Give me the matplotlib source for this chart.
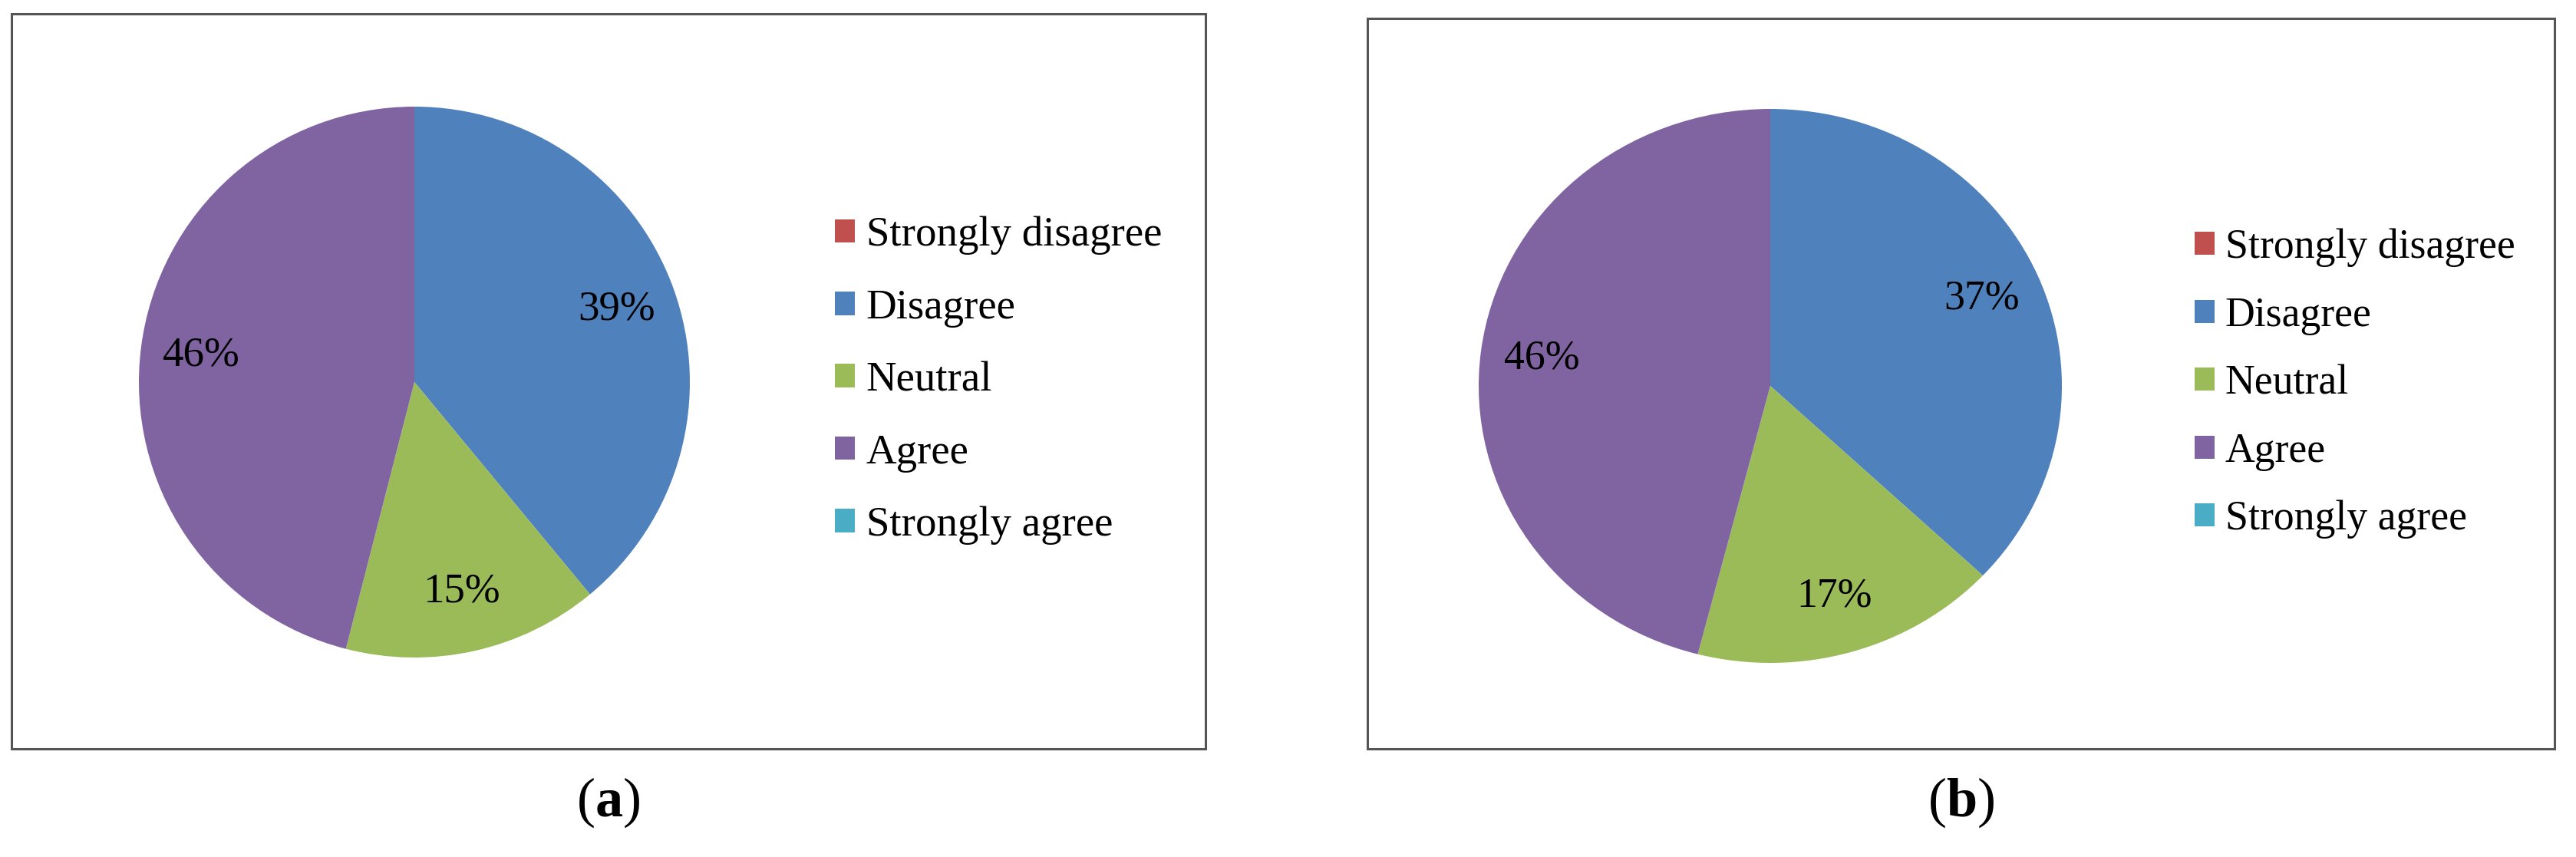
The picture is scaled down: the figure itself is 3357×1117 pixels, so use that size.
import matplotlib
matplotlib.use("Agg")
import matplotlib.pyplot as plt
from matplotlib.patches import Rectangle

plt.rcParams['font.family'] = ['Liberation Serif', 'DejaVu Serif']
plt.rcParams['mathtext.fontset'] = 'custom'
plt.rcParams['mathtext.rm'] = 'Liberation Serif'
plt.rcParams['mathtext.bf'] = 'Liberation Serif:bold'

categories = ['Strongly disagree', 'Disagree', 'Neutral', 'Agree', 'Strongly agree']
colors = ['#C0504D', '#4F81BD', '#9BBB59', '#8064A2', '#4BACC6']
values_a = [0, 39, 15, 46, 0]
values_b = [0, 37, 17, 46, 0]
panel_labels = ['a', 'b']

W, H = 3357, 1117
fig = plt.figure(figsize=(W / 100, H / 100), dpi=100)


def fr(x0, y0, x1, y1):
    # pixel box (top-left origin) -> figure fraction rect
    return [x0 / W, 1 - y1 / H, (x1 - x0) / W, (y1 - y0) / H]


def pct(p):
    return '%.0f%%' % p if p > 0.5 else ''


def panel(values, box, pie_box, pctdist, fs, lab_sp, leg_anchor, label, label_xy):
    # frame around the chart
    fig.patches.append(Rectangle((box[0] / W, 1 - box[3] / H),
                                 (box[2] - box[0]) / W, (box[3] - box[1]) / H,
                                 transform=fig.transFigure, fill=False,
                                 edgecolor='#555555', linewidth=2.2))
    ax = fig.add_axes(fr(*pie_box))
    wedges, texts, autotexts = ax.pie(values, colors=colors, startangle=90,
                                      counterclock=False, autopct=pct,
                                      pctdistance=pctdist, radius=1,
                                      wedgeprops=dict(linewidth=0),
                                      textprops=dict(fontsize=fs, color='black'))
    ax.set_aspect('auto')
    ax.set_xlim(-1, 1)
    ax.set_ylim(-1, 1)
    ax.axis('off')
    fig.legend(wedges, categories, loc='center left',
               bbox_to_anchor=(leg_anchor[0] / W, 1 - leg_anchor[1] / H),
               frameon=False, fontsize=fs, handlelength=0.48, handleheight=0.48,
               handletextpad=0.26, labelspacing=lab_sp, borderpad=0,
               borderaxespad=0)
    fig.text(label_xy[0] / W, 1 - label_xy[1] / H, r'$(\mathbf{%s})$' % label,
             fontsize=52, ha='center', va='center')


panel(values_a, (15, 18, 1571, 976), (181, 139, 899, 857), 0.78, 39.5, 0.80,
      (1088, 496), panel_labels[0], (793, 1046))
panel(values_b, (1782, 24, 3329, 976), (1927, 142, 2687, 864), 0.79, 38.7, 0.705,
      (2860, 500), panel_labels[1], (2556, 1046))

fig.savefig('out.png', dpi=100, facecolor='white')
